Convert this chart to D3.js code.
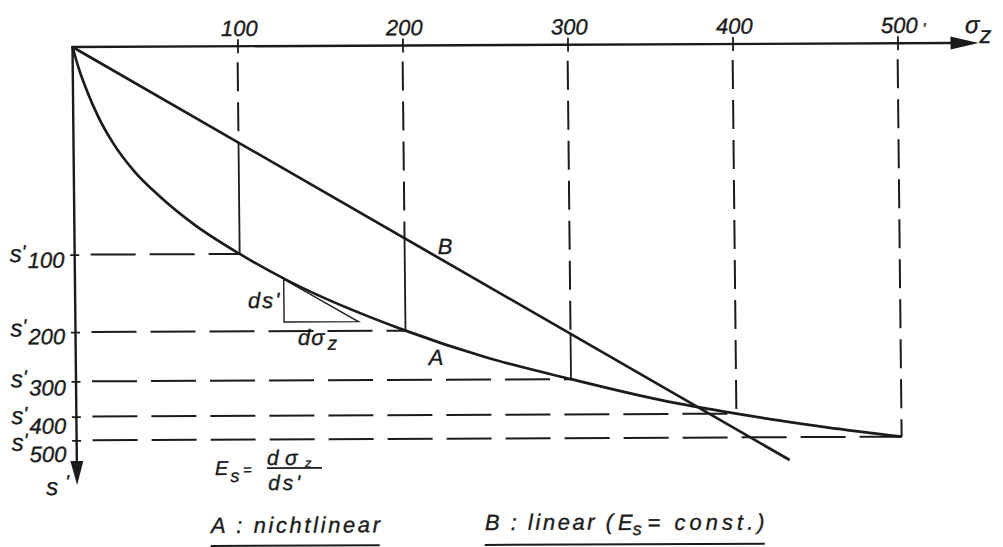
<!DOCTYPE html>
<html>
<head>
<meta charset="utf-8">
<script src="https://cdn.jsdelivr.net/npm/d3@7"></script>
<style>
body{margin:0;background:#fff}
svg{display:block}
.txt{font-family:"Liberation Sans",Arial,sans-serif;font-style:italic;fill:#1b1b1b;stroke:#1b1b1b;stroke-width:0.35}
</style>
</head>
<body>
<div id="chart"></div>
<script>
//Kurve A (nichtlinear): Spannung sigma_z und Setzung s'
var sigmaA = [0, 3.6, 8.5, 15.2, 24.2, 36.4, 51.5, 72.7, 100, 128.4, 200, 249, 300, 353.8, 400, 454.7, 500]
var sA     = [0, 0.48, 1.0, 1.59, 2.20, 2.82, 3.39, 4.05, 4.72, 5.32, 6.48, 7.10, 7.60, 8.08, 8.40, 8.72, 8.94]

//Gerade B (linear, Es = const.)
var sigmaB = [0, 432]
var sB     = [0, 9.46]

//Stufen auf den Achsen
var sigmaTicks = [100, 200, 300, 400, 500]
var sTickLabels = ["100", "200", "300", "400", "500"]

//Steigungsdreieck an Kurve A
var triSigma = [126.5, 171.5]
var triS     = [5.30, 6.27]

var width = 1003, height = 547
var ink = '#1b1b1b'

var x = d3.scaleLinear().domain([0, 500]).range([0, 825])
var y = d3.scaleLinear().domain([0, 10]).range([0, 440])
var bAt = d3.scaleLinear().domain(sigmaB).range(sB)

var sTicks = sigmaTicks.map(d => sA[sigmaA.indexOf(d)])

var svg = d3.select('#chart')
    .append('svg')
    .attr('width', width)
    .attr('height', height)

svg.append('rect').attr('width', width).attr('height', height).attr('fill', '#fff')

//die Vorlage ist leicht schief eingescannt
var g = svg.append('g')
    .attr('transform', 'translate(72.5,47) matrix(1,-0.0045,0.0105,1,0,0)')

function txt(u, v, s, size, anchor) {
    return g.append('text')
        .attr('class', 'txt')
        .attr('x', u)
        .attr('y', v)
        .attr('font-size', size)
        .attr('text-anchor', anchor || 'start')
        .text(s)
}

//Hilfslinien (gestrichelt)
g.append('g')
    .selectAll('line')
    .data(sigmaTicks).enter()
    .append('line')
    .attr('x1', 16)
    .attr('x2', (d, i) => x(d))
    .attr('y1', (d, i) => y(sTicks[i]))
    .attr('y2', (d, i) => y(sTicks[i]))
    .attr('stroke', ink)
    .attr('stroke-width', 2)
    .attr('stroke-dasharray', '45,14')

sigmaTicks.forEach((d, i) => {
    var a = sTicks[i]
    var b = bAt(d)
    var ende = (b < a) ? b : a
    g.append('line')
        .attr('x1', x(d)).attr('x2', x(d))
        .attr('y1', 16).attr('y2', y(ende))
        .attr('stroke', ink)
        .attr('stroke-width', 2)
        .attr('stroke-dasharray', '29,11')
    if (b < a) {
        g.append('line')
            .attr('x1', x(d)).attr('x2', x(d))
            .attr('y1', y(b)).attr('y2', y(a))
            .attr('stroke', ink)
            .attr('stroke-width', 1.8)
    }
})

//Achsen
var ejeX = d3.axisTop(x)
    .tickValues(sigmaTicks)
    .tickSize(7)
    .tickPadding(3.3)
g.append('g')
    .attr('class', 'ejeX')
    .call(ejeX)
g.select('.ejeX .domain').remove()
g.selectAll('.ejeX .tick line').attr('y1', 7).attr('stroke', ink).attr('stroke-width', 1.8)
g.selectAll('.ejeX .tick text')
    .attr('class', 'txt')
    .attr('font-size', 22)
    .attr('dx', 1.5)
    .attr('fill', ink)

var ejeY = d3.axisLeft(y)
    .tickValues(sTicks)
    .tickSize(4.5)
    .tickFormat('')
g.append('g')
    .attr('class', 'ejeY')
    .call(ejeY)
g.select('.ejeY .domain').remove()
g.selectAll('.ejeY .tick line').attr('x1', 4.5).attr('stroke', ink).attr('stroke-width', 1.8)

g.append('line')
    .attr('x1', -1).attr('y1', 0).attr('x2', 880).attr('y2', 0)
    .attr('stroke', ink).attr('stroke-width', 2.4)
g.append('path')
    .attr('d', 'M878,-6.5L906,0L878,6.5Z')
    .attr('fill', ink)
g.append('line')
    .attr('x1', 0).attr('y1', -1).attr('x2', 0).attr('y2', 416)
    .attr('stroke', ink).attr('stroke-width', 2.4)
g.append('path')
    .attr('d', 'M-6.5,414L0,438L6.5,414Z')
    .attr('fill', ink)

//Kurven
var lineaA = d3.line()
    .x((d, i) => x(sigmaA[i]))
    .y(d => y(d))
    .curve(d3.curveMonotoneX)

g.append('path')
    .attr('d', lineaA(sA))
    .attr('fill', 'none')
    .attr('stroke', ink)
    .attr('stroke-width', 2.7)

var lineaB = d3.line()
    .x((d, i) => x(sigmaB[i]))
    .y(d => y(d))

g.append('path')
    .attr('d', lineaB(sB))
    .attr('fill', 'none')
    .attr('stroke', ink)
    .attr('stroke-width', 2.7)

//Steigungsdreieck
g.append('path')
    .attr('d', 'M' + x(triSigma[0]) + ',' + y(triS[0]) +
               'L' + x(triSigma[0]) + ',' + y(triS[1]) +
               'L' + x(triSigma[1]) + ',' + y(triS[1]) + 'Z')
    .attr('fill', 'none')
    .attr('stroke', ink)
    .attr('stroke-width', 1.4)

//Beschriftung s'-Achse
var sOff = [7, 4, 5.5, 7, 10]
var nOff = [13, 12, 14, 17, 21.5]
sTicks.forEach((s, i) => {
    txt(-65, y(s) + sOff[i], 's', 24)
    txt(-53, y(s) + sOff[i] - 3, "'", 20)
    txt(-47, y(s) + nOff[i], sTickLabels[i], 22)
})
txt(x(500) + 25, -9, "'", 16)

txt(-31, 448, 's', 24)
txt(-12, 442, "'", 20)

txt(892.6, -10, 'σ', 24)
txt(907, 0, 'z', 24)

//Kurvennamen
txt(370.3, 208.7, 'B', 22, 'middle')
txt(360.2, 319.6, 'A', 22, 'middle')

//Dreieck
txt(172.8, 261.8, "ds'", 22).attr('letter-spacing', 2)
txt(222.4, 299, 'dσ', 22).attr('letter-spacing', 1)
txt(252, 304, 'z', 19)

//Formel Es = dσz / ds'
txt(138, 428.6, 'E', 20)
txt(153.5, 435.6, 's', 18)
txt(166, 428.6, '=', 15)
txt(190, 418.9, 'd', 21)
txt(208, 418.9, 'σ', 21)
txt(228, 421.5, 'z', 13)
g.append('line')
    .attr('x1', 190).attr('x2', 245).attr('y1', 422).attr('y2', 422)
    .attr('stroke', ink).attr('stroke-width', 1.6)
txt(191, 443.9, "ds'", 21).attr('textLength', 32).attr('lengthAdjust', 'spacing')

//Legende
txt(133.4, 486.6, 'A : nichtlinear', 22)
    .attr('textLength', 169).attr('lengthAdjust', 'spacing')
g.append('line')
    .attr('x1', 133).attr('x2', 302).attr('y1', 499.5).attr('y2', 499.5)
    .attr('stroke', ink).attr('stroke-width', 2)

txt(407.4, 484.9, 'B : linear (', 22)
    .attr('textLength', 128).attr('lengthAdjust', 'spacing')
txt(540.4, 485.5, 'E', 22)
txt(555, 490.5, 's', 18)
txt(570, 485.6, '= const.)', 22)
    .attr('textLength', 117).attr('lengthAdjust', 'spacing')
g.append('line')
    .attr('x1', 407).attr('x2', 687).attr('y1', 499.8).attr('y2', 499.8)
    .attr('stroke', ink).attr('stroke-width', 2)
</script>
</body>
</html>
